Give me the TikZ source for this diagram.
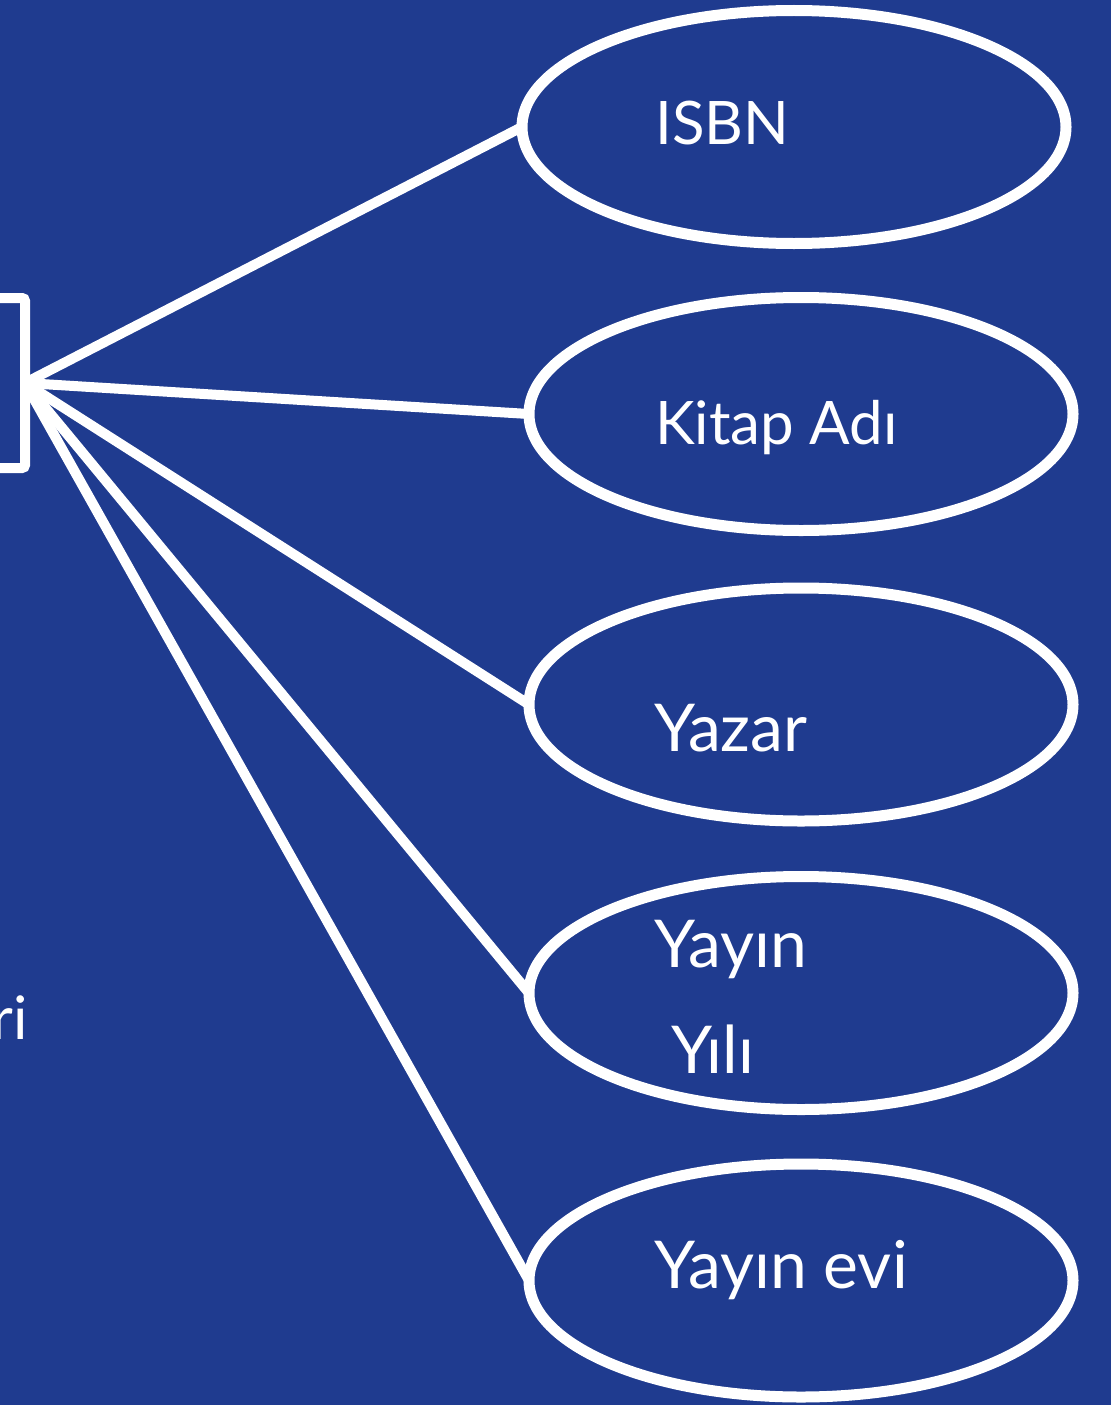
\documentclass[tikz,border=0pt]{standalone}
\usepackage{fontspec}
\setmainfont{Lato}
\usetikzlibrary{shapes.geometric}
\definecolor{bgblue}{RGB}{31,59,143}
\begin{document}
\begin{tikzpicture}[x=1pt,y=-1pt,
  attr/.style={ellipse, draw=white, line width=11pt, minimum width=544pt, minimum height=233pt, inner sep=0pt, outer sep=0pt},
  conn/.style={draw=white, line width=10pt},
  lbl/.style={text=white, anchor=base west, inner sep=0pt, font=\fontsize{60}{72}\selectfont},
  lblb/.style={lbl, font=\fontsize{66}{78}\selectfont},
]
\fill[bgblue] (0,0) rectangle (1111,1405);
\useasboundingbox (0,0) rectangle (1111,1405);
\node[draw=white, line width=10pt, rounded corners=3pt, minimum width=225pt, minimum height=170pt, inner sep=0pt, outer sep=0pt] (box) at (-87.5,383) {};
\node[attr] (isbn) at (794,127) {};
\node[attr] (kitap) at (801,414) {};
\node[attr] (yazar) at (801,704.5) {};
\node[attr] (yyili) at (801,993) {};
\node[attr] (yevi) at (801,1280.5) {};
\draw[conn] (box.east) -- (isbn.west);
\draw[conn] (box.east) -- (kitap.west);
\draw[conn] (box.east) -- (yazar.west);
\draw[conn] (box.east) -- (yyili.west);
\draw[conn] (box.east) -- (yevi.west);
\node[lbl] (tisbn) at (655,144.5) {ISBN};
\node[lbl] (tkitap) at (655,444.5) {Kitap Adı};
\node[lblb] (tyazar) at (654,751.5) {Yazar};
\node[lblb] (tyayin) at (654,967) {Yayın};
\node[lblb] (tyili) at (671,1073) {Yılı};
\node[lblb] (tyevi) at (654,1288.5) {Yayın evi};
\node[lbl, anchor=base east] (tri) at (28,1039) {ri};
\end{tikzpicture}
\end{document}
